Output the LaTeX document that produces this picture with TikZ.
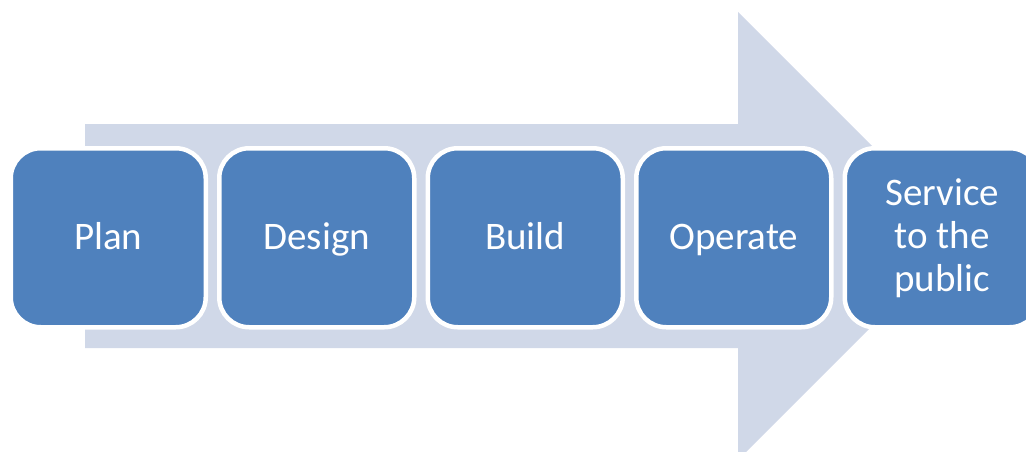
\documentclass[tikz,border=0pt]{standalone}
\usepackage{fontspec}
\setmainfont{Carlito}
\definecolor{boxblue}{HTML}{4F81BD}
\definecolor{arrowgrey}{HTML}{D0D8E8}
\begin{document}
\begin{tikzpicture}[x=1pt,y=-1pt,
  stepbox/.style={draw=white, line width=4.5pt, fill=boxblue, rounded corners=30pt,
    minimum width=195pt, minimum height=179pt, inner sep=0pt, text=white,
    font=\fontsize{39}{43}\selectfont, align=center, anchor=north west,
    text height=28pt, text depth=5pt}]
\useasboundingbox (0,0) rectangle (1026,452);
\clip (0,0) rectangle (1026,452);
\fill[arrowgrey] (85,124) -- (738,124) -- (738,12) -- (962,236) -- (738,460) -- (738,348) -- (85,348) -- cycle;
\node[stepbox] (plan) at (8.5,146) {Plan};
\node[stepbox] (design) at (217,146) {Design};
\node[stepbox] (build) at (425.5,146) {Build};
\node[stepbox] (operate) at (634,146) {Operate};
\node[stepbox, text height=, text depth=] (service) at (842.5,146) {Service\\to the\\public};
\end{tikzpicture}
\end{document}
